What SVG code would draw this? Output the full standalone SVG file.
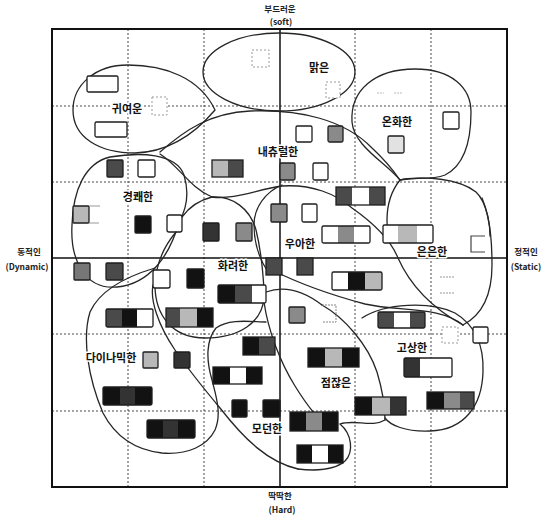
<svg xmlns="http://www.w3.org/2000/svg" width="541" height="517" viewBox="0 0 541 517">
<style>
.sh{fill:none;stroke:#262626;stroke-width:1.3;stroke-linecap:round}
.gr{stroke:#4a4a4a;stroke-width:1;stroke-dasharray:2 2;fill:none}
.s{stroke:#1e1e1e;stroke-width:1.3}
.o{fill:none;stroke:#1e1e1e;stroke-width:1.3}
.fa{fill:#fff;stroke:#9a9a9a;stroke-width:1;stroke-dasharray:2 2}
.k{fill:#121212}.d{fill:#4a4a4a}.dd{fill:#333}.m{fill:#8a8a8a}.l{fill:#b8b8b8}.ll{fill:#e2e2e2}.w{fill:#fff}
.lb{font-family:"Noto Sans CJK KR","Noto Sans",sans-serif;font-weight:700;font-size:11px;text-anchor:middle;fill:#111;stroke:#fff;stroke-width:3;paint-order:stroke;stroke-linejoin:round}
.ax{font-family:"Noto Sans CJK KR","Noto Sans",sans-serif;font-weight:700;font-size:8.5px;text-anchor:middle;fill:#222}
</style>
<rect x="0" y="0" width="541" height="517" fill="#fff"/>
<g id="grid">
<path class="gr" d="M128,29V487M204,29V487M355,29V487M431,29V487M52,106H507M52,182H507M52,334H507M52,411H507"/>
<rect x="52" y="29" width="455" height="458" fill="none" stroke="#111" stroke-width="2"/>
<path d="M280,29V487M52,258H507" stroke="#111" stroke-width="1.5" fill="none"/>
</g>
<g id="axis-labels">
<text class="ax" x="280" y="12">부드러운</text>
<text class="ax" x="281" y="25">(soft)</text>
<text class="ax" x="280" y="499">딱딱한</text>
<text class="ax" x="282" y="513">(Hard)</text>
<text class="ax" x="29" y="255">동적인</text>
<text class="ax" x="27" y="270">(Dynamic)</text>
<text class="ax" x="526" y="255">정적인</text>
<text class="ax" x="526" y="270">(Static)</text>
</g>
<g id="connectors">
<path class="sh" d="M160,154 C178,165 190,188 212,197 C235,200 258,189 282,186 C312,184 336,194 352,208 C372,222 390,238 398,258 C410,285 432,308 463,325"/>
<path class="sh" d="M182,217 C190,206 200,200 212,197"/>
<path class="sh" d="M212,197 C232,196 250,208 256,230 C261,250 263,272 264,290"/>
<path class="sh" d="M282,185 C265,192 254,208 254,225 C254,245 260,260 268,272"/>
<path class="sh" d="M272,270 C300,284 335,296 365,304 C400,312 440,306 463,325"/>
<path class="sh" d="M266,292 C285,285 305,292 322,305"/>
<path class="sh" d="M322,305 C345,318 368,345 377,372 C383,392 385,408 385,420"/>
<path class="sh" d="M385,420 C372,428 355,419 340,424 C352,434 354,452 345,461 C335,470 315,471 298,469"/>
<path class="sh" d="M264,302 C268,330 280,362 295,386 C303,399 309,407 314,413"/>
<path class="sh" d="M153,285 C150,300 158,325 175,350 C190,372 205,390 220,408 C245,440 268,462 298,469"/>
<path class="sh" d="M400,180 C392,190 387,205 387,220 C387,230 388,236 390,242"/>
<path class="sh" d="M482,198 C487,210 490,222 490,236"/>
</g>
<g id="malgeun">
<ellipse class="sh" cx="279" cy="72" rx="76" ry="39"/>
<rect class="fa" x="252" y="50" width="17" height="17" stroke="#ccc"/>
<rect class="fa" x="326" y="82" width="14" height="16"/>
<text class="lb" x="319" y="72">맑은</text>
</g>
<g id="gwiyeoun">
<path class="sh" d="M215,110 C200,78 165,65 128,65 C95,65 73,85 73,110 C73,138 100,153 135,153 C168,152 193,136 215,110 Z"/>
<rect class="s w" x="87" y="76" width="31" height="16" rx="1.5"/>
<rect class="s w" x="95" y="122" width="32" height="15" rx="1.5"/>
<rect class="fa" x="152" y="97" width="15" height="18"/>
<text class="lb" x="127" y="113">귀여운</text>
</g>
<g id="onhwa">
<path class="sh" d="M400,180 C385,162 354,146 352,122 C350,90 375,69 415,69 C452,69 471,88 471,112 C471,140 465,165 445,175 C430,181 412,176 400,180 Z"/>
<rect class="s w" x="443" y="112" width="16" height="17" rx="1.5"/>
<rect class="s ll" x="388" y="136" width="16" height="17" rx="1.5"/>
<path d="M377,93H384M394,93H402" stroke="#bbb" stroke-width="1" stroke-dasharray="2 1"/>
<text class="lb" x="397" y="126">온화한</text>
</g>
<g id="natural">
<path class="sh" d="M160,152 C185,130 210,113 250,111 C300,109 345,120 372,148 C385,160 393,170 400,180"/>
<rect class="s w" x="296" y="126" width="16" height="16" rx="1.5"/>
<rect class="s m" x="328" y="126" width="15" height="16" rx="1.5"/>
<rect class="l" x="212" y="160" width="16" height="17"/><rect class="d" x="228" y="160" width="15" height="17"/><rect class="o" x="212" y="160" width="31" height="17"/>
<rect class="s m" x="280" y="163" width="15" height="17" rx="1.5"/>
<rect class="s w" x="313" y="163" width="15" height="17" rx="1.5"/>
<rect class="d" x="336" y="187" width="16" height="18"/><rect class="w" x="352" y="187" width="17" height="18"/><rect class="d" x="369" y="187" width="16" height="18"/><rect class="o" x="336" y="187" width="49" height="18"/>
<text class="lb" x="278" y="156">내츄럴한</text>
</g>
<g id="gyeongkwae">
<path class="sh" d="M110,157 C140,152 176,153 184,175 C190,195 186,210 179,222 C170,255 150,284 117,287 C85,290 70,260 72,225 C73,190 85,163 110,157 Z"/>
<rect class="s d" x="107" y="160" width="16" height="17" rx="1"/>
<rect class="s w" x="138" y="160" width="17" height="17" rx="1.5"/>
<rect class="s l" x="73" y="206" width="16" height="17" rx="1"/>
<path d="M89,206H100M89,223H99" stroke="#999" stroke-width="1"/>
<rect class="s k" x="135" y="216" width="16" height="17" rx="1"/>
<rect class="s w" x="167" y="215" width="15" height="17" rx="2"/>
<text class="lb" x="138" y="201">경쾌한</text>
</g>
<g id="hwaryeo">
<path class="sh" d="M176,232 C165,245 156,262 155,285 C155,315 172,338 205,338 C240,338 262,322 264,298"/>
<rect class="s dd" x="203" y="223" width="16" height="18" rx="1"/>
<rect class="s m" x="236" y="223" width="16" height="18" rx="1"/>
<rect class="s k" x="187" y="269" width="17" height="19" rx="1"/>
<rect class="k" x="218" y="285" width="17" height="18"/><rect class="d" x="235" y="285" width="17" height="18"/><rect class="w" x="252" y="285" width="14" height="18"/><rect class="o" x="218" y="285" width="48" height="18" rx="1.5"/>
<text class="lb" x="233" y="270">화려한</text>
</g>
<g id="uahan">
<rect class="s m" x="271" y="204" width="16" height="18" rx="1"/>
<rect class="s w" x="302" y="204" width="15" height="18" rx="1.5"/>
<rect class="w" x="322" y="226" width="16" height="17"/><rect class="m" x="338" y="226" width="16" height="17"/><rect class="w" x="354" y="226" width="16" height="17"/><rect class="o" x="322" y="226" width="48" height="17" rx="1.5"/>
<rect class="s d" x="266" y="258" width="16" height="17"/>
<rect class="s d" x="297" y="258" width="16" height="17"/>
<rect class="w" x="332" y="272" width="16" height="18"/><rect class="k" x="348" y="272" width="17" height="18"/><rect class="l" x="365" y="272" width="17" height="18"/><rect class="o" x="332" y="272" width="50" height="18" rx="1.5"/>
<text class="lb" x="300" y="248">우아한</text>
</g>
<g id="euneun">
<path class="sh" d="M400,180 C425,176 458,178 476,192 C490,205 492,240 492,265 C492,295 482,315 463,325"/>
<rect class="w" x="383" y="225" width="15" height="18"/><rect class="l" x="398" y="225" width="19" height="18"/><rect class="w" x="417" y="225" width="16" height="18"/><rect class="o" x="383" y="225" width="50" height="18" rx="1.5"/>
<path d="M485,236H471V252H485" fill="none" stroke="#444" stroke-width="1.2"/>
<path d="M440,277H455M440,293H455" stroke="#999" stroke-width="1" stroke-dasharray="2 1"/>
<text class="lb" x="432" y="256">은은한</text>
</g>
<g id="jeomjan">
<rect class="s m" x="289" y="307" width="16" height="16" rx="1"/>
<path d="M322,305H336V322H322" fill="none" stroke="#888" stroke-width="1" stroke-dasharray="2 1"/>
<rect class="k" x="308" y="348" width="17" height="19"/><rect class="l" x="325" y="348" width="17" height="19"/><rect class="k" x="342" y="348" width="17" height="19"/><rect class="o" x="308" y="348" width="51" height="19"/>
<rect class="k" x="290" y="412" width="16" height="19"/><rect class="m" x="306" y="412" width="16" height="19"/><rect class="k" x="322" y="412" width="16" height="19"/><rect class="o" x="290" y="412" width="48" height="19"/>
<rect class="k" x="297" y="445" width="15" height="18"/><rect class="w" x="312" y="445" width="16" height="18"/><rect class="k" x="328" y="445" width="15" height="18"/><rect class="o" x="297" y="445" width="46" height="18"/>
<rect class="k" x="355" y="397" width="17" height="18"/><rect class="l" x="372" y="397" width="18" height="18"/><rect class="dd" x="390" y="397" width="16" height="18"/><rect class="o" x="355" y="397" width="51" height="18"/>
<text class="lb" x="336" y="387">점잖은</text>
</g>
<g id="gosang">
<path class="sh" d="M362,318 C385,303 430,301 455,313 C475,325 484,345 483,372 C482,405 465,430 430,431 C405,432 390,425 385,418"/>
<rect class="d" x="378" y="312" width="16" height="16"/><rect class="w" x="394" y="312" width="16" height="16"/><rect class="d" x="410" y="312" width="15" height="16"/><rect class="o" x="378" y="312" width="47" height="16" rx="1.5"/>
<rect class="fa" x="442" y="327" width="16" height="16"/>
<rect class="s w" x="473" y="327" width="15" height="16" rx="1.5"/>
<rect class="dd" x="404" y="358" width="16" height="19"/><rect class="w" x="420" y="358" width="32" height="19"/><rect class="o" x="404" y="358" width="48" height="19" rx="1.5"/>
<rect class="k" x="427" y="392" width="17" height="17"/><rect class="m" x="444" y="392" width="16" height="17"/><rect class="d" x="460" y="392" width="14" height="17"/><rect class="o" x="427" y="392" width="47" height="17"/>
<text class="lb" x="412" y="352">고상한</text>
</g>
<g id="modern">
<rect class="k" x="243" y="337" width="16" height="18"/><rect class="d" x="259" y="337" width="16" height="18"/><rect class="o" x="243" y="337" width="32" height="18"/>
<rect class="k" x="213" y="367" width="17" height="17"/><rect class="w" x="230" y="367" width="16" height="17"/><rect class="k" x="246" y="367" width="16" height="17"/><rect class="o" x="213" y="367" width="49" height="17"/>
<rect class="s k" x="232" y="400" width="15" height="17" rx="1"/>
<rect class="s k" x="263" y="400" width="17" height="17" rx="1"/>
<text class="lb" x="267" y="433">모던한</text>
</g>
<g id="dynamic">
<path class="sh" d="M155,268 C128,276 100,290 90,312 C82,338 88,378 103,413 C115,436 135,450 162,453 C188,455 207,446 215,430 C222,414 216,396 212,380 C206,360 206,340 216,328 C230,318 252,322 266,322"/>
<rect class="s w" x="74" y="263" width="16" height="17" rx="1" style="fill:#777"/>
<rect class="s d" x="106" y="263" width="17" height="17" rx="1"/>
<rect class="s w" x="153" y="270" width="17" height="18" rx="2"/>
<rect class="d" x="106" y="309" width="16" height="18"/><rect class="k" x="122" y="309" width="15" height="18"/><rect class="w" x="137" y="309" width="16" height="18"/><rect class="o" x="106" y="309" width="47" height="18" rx="1.5"/>
<rect class="d" x="166" y="308" width="14" height="19"/><rect class="l" x="180" y="308" width="17" height="19"/><rect class="k" x="197" y="308" width="16" height="19"/><rect class="o" x="166" y="308" width="47" height="19"/>
<rect class="s l" x="143" y="352" width="15" height="16" rx="1"/>
<rect class="s dd" x="174" y="352" width="16" height="16" rx="1"/>
<rect class="k" x="103" y="387" width="17" height="18"/><rect class="dd" x="120" y="387" width="15" height="18"/><rect class="k" x="135" y="387" width="17" height="18"/><rect class="o" x="103" y="387" width="49" height="18" rx="1.5"/>
<rect class="k" x="147" y="420" width="16" height="18"/><rect class="dd" x="163" y="420" width="15" height="18"/><rect class="k" x="178" y="420" width="17" height="18"/><rect class="o" x="147" y="420" width="48" height="18" rx="1.5"/>
<text class="lb" x="111" y="362">다이나믹한</text>
</g>
</svg>
